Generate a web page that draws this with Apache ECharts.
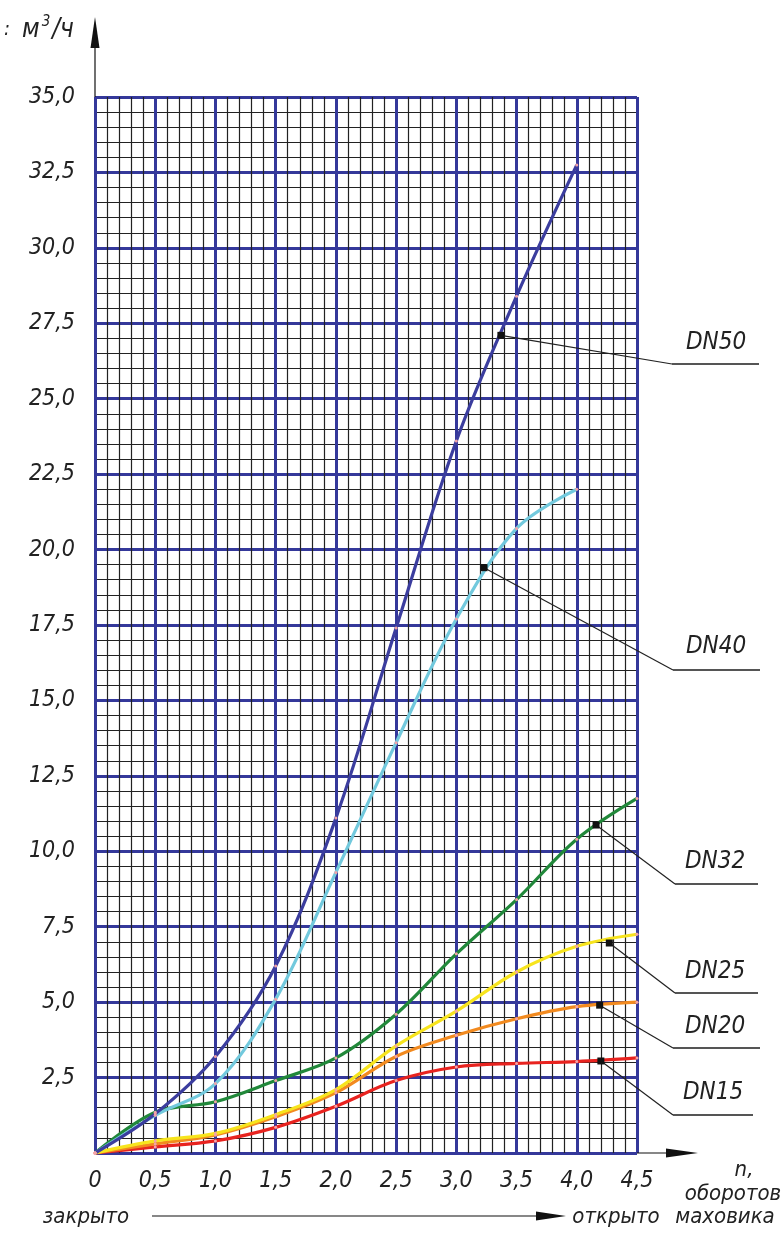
<!DOCTYPE html>
<html>
<head>
<meta charset="utf-8">
<script src="https://cdn.jsdelivr.net/npm/echarts@6/dist/echarts.min.js"></script>
<style>
html, body { margin: 0; padding: 0; background: #fff; }
#main { width: 782px; height: 1247px; }
</style>
</head>
<body>
<div id="main"></div>
<script>
// обороты маховика
var turns = [0, 0.5, 1.0, 1.5, 2.0, 2.5, 3.0, 3.5, 4.0, 4.5];
// расход, м3/ч
var dn50 = [0, 1.3, 3.2, 6.2, 11.1, 17.4, 23.6, 28.4, 32.75];
var dn40 = [0, 1.25, 2.3, 5.1, 9.3, 13.6, 17.7, 20.7, 22.0];
var dn32 = [0, 1.35, 1.7, 2.4, 3.15, 4.6, 6.6, 8.4, 10.4, 11.75];
var dn25 = [0, 0.4, 0.65, 1.27, 2.1, 3.55, 4.7, 6.0, 6.85, 7.25];
var dn20 = [0, 0.3, 0.6, 1.2, 2.0, 3.2, 3.9, 4.45, 4.85, 5.0];
var dn15 = [0, 0.2, 0.4, 0.85, 1.55, 2.4, 2.85, 2.97, 3.03, 3.15];

var names = ['DN50', 'DN40', 'DN32', 'DN25', 'DN20', 'DN15'];
var colors = ['#3b3d9e', '#72c9dd', '#21883a', '#f7e41d', '#f28a1f', '#e8231f'];
// точки выносок на кривых (в единицах осей)
var anchors = [[3.37, 27.1], [3.23, 19.4], [4.16, 10.87], [4.27, 6.96], [4.19, 4.9], [4.2, 3.05]];

var font = "'DejaVu Sans Condensed', 'Liberation Sans', sans-serif";

function pairs(vals) {
  var out = [];
  for (var i = 0; i < vals.length; i++) out.push([turns[i], vals[i]]);
  return out;
}
function comma(v) {
  if (v === 0) return '0';
  return v.toFixed(1).replace('.', ',');
}

var allSeries = [dn50, dn40, dn32, dn25, dn20, dn15];
var series = [];
for (var s = allSeries.length - 1; s >= 0; s--) {
  series.push({
    name: names[s],
    type: 'line',
    smooth: 0.35,
    data: pairs(allSeries[s]),
    symbol: 'circle',
    symbolSize: 3,
    itemStyle: { color: '#f3a3a8' },
    lineStyle: { color: colors[s], width: 3.2 },
    z: 5,
    clip: false
  });
}

const myChart = echarts.init(document.getElementById('main'));
var option = {
  animation: false,
  backgroundColor: '#fff',
  grid: { left: 95, right: 145, top: 97, bottom: 94 },
  xAxis: {
    type: 'value',
    min: 0, max: 4.5, interval: 0.5,
    axisLine: { show: false },
    axisTick: { show: false },
    minorTick: { show: false, splitNumber: 5 },
    splitLine: { show: true, lineStyle: { color: '#34389a', width: 3 } },
    minorSplitLine: { show: true, lineStyle: { color: '#222', width: 1.2 } },
    axisLabel: {
      margin: 17, fontSize: 23, fontStyle: 'italic', fontFamily: font, color: '#222',
      formatter: comma
    }
  },
  yAxis: {
    type: 'value',
    min: 0, max: 35, interval: 2.5,
    axisLine: { show: false },
    axisTick: { show: false },
    minorTick: { show: false, splitNumber: 5 },
    splitLine: { show: true, lineStyle: { color: '#34389a', width: 3 } },
    minorSplitLine: { show: true, lineStyle: { color: '#222', width: 1.2 } },
    axisLabel: {
      margin: 20, fontSize: 23, fontStyle: 'italic', fontFamily: font, color: '#222',
      formatter: function (v) { return v === 0 ? '' : comma(v); }
    }
  },
  series: series
};
myChart.setOption(option);

// стрелки осей, подписи и выноски
var txt = { fontFamily: font, fontStyle: 'italic', fill: '#222' };
var g = [];
function line(x1, y1, x2, y2, w, c) {
  g.push({ type: 'line', shape: { x1: x1, y1: y1, x2: x2, y2: y2 }, style: { stroke: c || '#111', lineWidth: w || 1 }, z: 20 });
}
function text(x, y, s, size, align) {
  g.push({ type: 'text', x: x, y: y, style: Object.assign({ text: s, fontSize: size, align: align || 'center', verticalAlign: 'middle' }, txt), z: 20 });
}
function arrow(pts) {
  g.push({ type: 'polygon', shape: { points: pts }, style: { fill: '#111' }, z: 20 });
}

var pOrigin = myChart.convertToPixel({ gridIndex: 0 }, [0, 0]);
var pTop = myChart.convertToPixel({ gridIndex: 0 }, [0, 35]);
var pRight = myChart.convertToPixel({ gridIndex: 0 }, [4.5, 0]);

// ось Y
line(pOrigin[0], pTop[1], pOrigin[0], 45, 1.2);
arrow([[pOrigin[0], 17], [pOrigin[0] - 4.5, 48], [pOrigin[0] + 4.5, 48]]);
g.push({
  type: 'text', x: 22, y: 30, z: 20,
  style: {
    text: 'м{sup|3}/ч', fontSize: 26, fontStyle: 'italic', fontFamily: font, fill: '#222', verticalAlign: 'middle',
    rich: { sup: { fontSize: 15, fontStyle: 'italic', fontFamily: font, verticalAlign: 'bottom', padding: [0, 2, 16, 2] } }
  }
});
text(4, 30, ':', 20, 'left');

// ось X
line(pRight[0], pOrigin[1], 670, pOrigin[1], 1.2);
arrow([[698, pOrigin[1]], [666, pOrigin[1] - 4.5], [666, pOrigin[1] + 4.5]]);
text(744, 1170, 'n,', 22);
text(733, 1194, 'оборотов', 22);
text(725, 1217, 'маховика', 22);
text(86, 1217, 'закрыто', 22);
text(616, 1217, 'открыто', 22);
line(152, 1216, 540, 1216, 1.2);
arrow([[566, 1216], [536, 1211.5], [536, 1220.5]]);

// выноски DN
var callouts = [[672, 364, 759, 716, 343], [673, 670, 760, 716, 647], [675, 884, 758, 715, 862],
                [675, 993, 758, 715, 972], [673, 1048, 760, 715, 1027], [673, 1115, 753, 713, 1093]];
for (var i = 0; i < names.length; i++) {
  var p = myChart.convertToPixel({ gridIndex: 0 }, anchors[i]);
  var c = callouts[i];
  line(p[0], p[1], c[0], c[1], 1.2, '#222');
  line(c[0], c[1], c[2], c[1], 1.8, '#555');
  g.push({ type: 'rect', shape: { x: p[0] - 3.5, y: p[1] - 3.5, width: 7, height: 7 }, style: { fill: '#111' }, z: 21 });
  text(c[3], c[4], names[i], 24);
}

myChart.setOption({ graphic: { elements: g } });
</script>
</body>
</html>
